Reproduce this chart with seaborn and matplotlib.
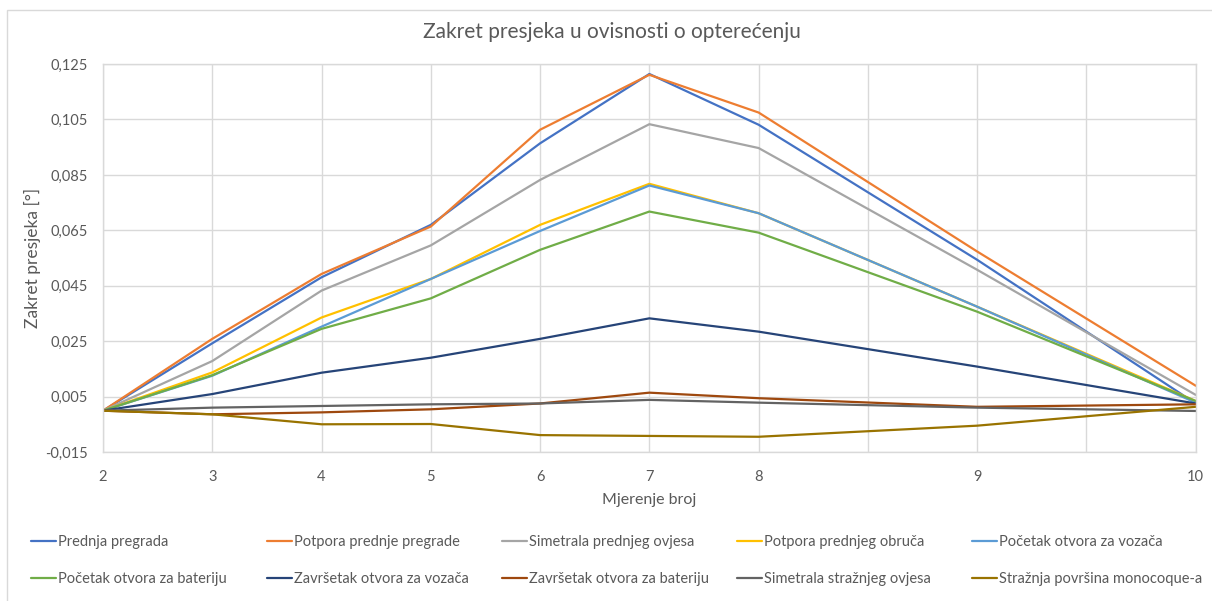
import numpy as np
import pandas as pd
import matplotlib
matplotlib.use("Agg")
import matplotlib.pyplot as plt
from matplotlib.patches import Rectangle
import seaborn as sns

# Category axis: blank slots keep the uneven spacing of the measurement runs
category_labels = ["2", "3", "4", "5", "6", "7", "8", "", "9", "", "10"]
measurements = [2, 3, 4, 5, 6, 7, 8, 9, 10]

series_names = [
    "Prednja pregrada",
    "Potpora prednje pregrade",
    "Simetrala prednjeg ovjesa",
    "Potpora prednjeg obruča",
    "Početak otvora za vozača",
    "Početak otvora za bateriju",
    "Završetak otvora za vozača",
    "Završetak otvora za bateriju",
    "Simetrala stražnjeg ovjesa",
    "Stražnja površina monocoque-a",
]

prednja_pregrada = [0.0, 0.0243, 0.0481, 0.0670, 0.0964, 0.1214, 0.1031, 0.0544, 0.0026]
potpora_prednje_pregrade = [0.0, 0.0259, 0.0493, 0.0664, 0.1013, 0.1211, 0.1075, 0.0574, 0.0090]
simetrala_prednjeg_ovjesa = [0.0, 0.0179, 0.0433, 0.0596, 0.0832, 0.1033, 0.0947, 0.0508, 0.0057]
potpora_prednjeg_obruca = [0.0, 0.0138, 0.0336, 0.0475, 0.0670, 0.0818, 0.0712, 0.0375, 0.0035]
pocetak_otvora_vozac = [0.0, 0.0126, 0.0303, 0.0475, 0.0648, 0.0812, 0.0712, 0.0375, 0.0029]
pocetak_otvora_baterija = [0.0, 0.0128, 0.0295, 0.0405, 0.0580, 0.0718, 0.0642, 0.0357, 0.0035]
zavrsetak_otvora_vozac = [0.0, 0.0060, 0.0137, 0.0191, 0.0259, 0.0333, 0.0285, 0.0159, 0.0026]
zavrsetak_otvora_baterija = [0.0, -0.0013, -0.0006, 0.0005, 0.0026, 0.0065, 0.0045, 0.0014, 0.0023]
simetrala_straznjeg_ovjesa = [0.0, 0.0011, 0.0017, 0.0023, 0.0026, 0.0039, 0.0029, 0.0011, -0.0001]
straznja_povrsina = [0.0, -0.0013, -0.0049, -0.0048, -0.0088, -0.0091, -0.0094, -0.0054, 0.0014]

series_values = [
    prednja_pregrada, potpora_prednje_pregrade, simetrala_prednjeg_ovjesa,
    potpora_prednjeg_obruca, pocetak_otvora_vozac, pocetak_otvora_baterija,
    zavrsetak_otvora_vozac, zavrsetak_otvora_baterija,
    simetrala_straznjeg_ovjesa, straznja_povrsina,
]

colors = ["#4472C4", "#ED7D31", "#A5A5A5", "#FFC000", "#5B9BD5",
          "#70AD47", "#264478", "#9E480E", "#636363", "#997300"]

y_ticks = [-0.015, 0.005, 0.025, 0.045, 0.065, 0.085, 0.105, 0.125]

# Long-format table; each measurement sits on its category slot
slots = [category_labels.index(str(m)) for m in measurements]
rows = []
for name, vals in zip(series_names, series_values):
    for s, v in zip(slots, vals):
        rows.append({"slot": s, "value": v, "series": name})
df = pd.DataFrame(rows)

sns.set_theme(style="white")
plt.rcParams["font.family"] = ["Lato", "DejaVu Sans"]
text_color = "#595959"
grid_color = "#D9D9D9"

W, H = 1212, 601
fig = plt.figure(figsize=(W / 100, H / 100), dpi=100)
ax = fig.add_axes([103 / W, 1 - 452.3 / H, (1195.7 - 103) / W, (452.3 - 64) / H])

sns.lineplot(data=df, x="slot", y="value", hue="series", hue_order=series_names,
             palette=dict(zip(series_names, colors)), linewidth=1.6,
             legend=False, ax=ax, sort=True)

ax.set_xlim(0, len(category_labels) - 1)
ax.set_ylim(y_ticks[0], y_ticks[-1])
ax.set_xticks(range(len(category_labels)))
ax.set_xticklabels(category_labels)
ax.set_yticks(y_ticks)
ax.set_yticklabels([f"{t:.3f}".replace(".", ",") for t in y_ticks])
ax.grid(True, color=grid_color, linewidth=1)
ax.set_axisbelow(True)
for sp in ax.spines.values():
    sp.set_color(grid_color)
    sp.set_linewidth(1)
ax.tick_params(length=0, labelsize=10.5, labelcolor=text_color)
ax.tick_params(axis="y", pad=11)
ax.tick_params(axis="x", pad=13)

ax.set_xlabel("Mjerenje broj", fontsize=11.5, color=text_color, labelpad=6)
ax.set_ylabel("Zakret presjeka [°]", fontsize=12.5, color=text_color, labelpad=3)

fig.text(612 / W, 1 - 32 / H, "Zakret presjeka u ovisnosti o opterećenju",
         ha="center", va="center", fontsize=15, color=text_color)

# Chart frame
fig.patches.append(Rectangle((7 / W, -0.1), 1.2, (1 - 10 / H) + 0.1,
                             transform=fig.transFigure, fill=False,
                             edgecolor=grid_color, linewidth=1))

# Legend: five equal-width columns, two rows, filled row by row
lines = ax.get_lines()[:len(series_names)]
ncols = 5
col_x = [31, 267, 502, 737, 972]
for c in range(ncols):
    idx = [c, c + ncols]
    fig.legend([lines[i] for i in idx], [series_names[i] for i in idx],
               loc="center left", bbox_to_anchor=(col_x[c] / W, 1 - 560.5 / H),
               bbox_transform=fig.transFigure, frameon=False, fontsize=10.5,
               handlelength=1.7, handletextpad=0.15, labelspacing=1.55,
               borderpad=0, borderaxespad=0, labelcolor=text_color)

fig.savefig("out.png", dpi=100, facecolor="white")
